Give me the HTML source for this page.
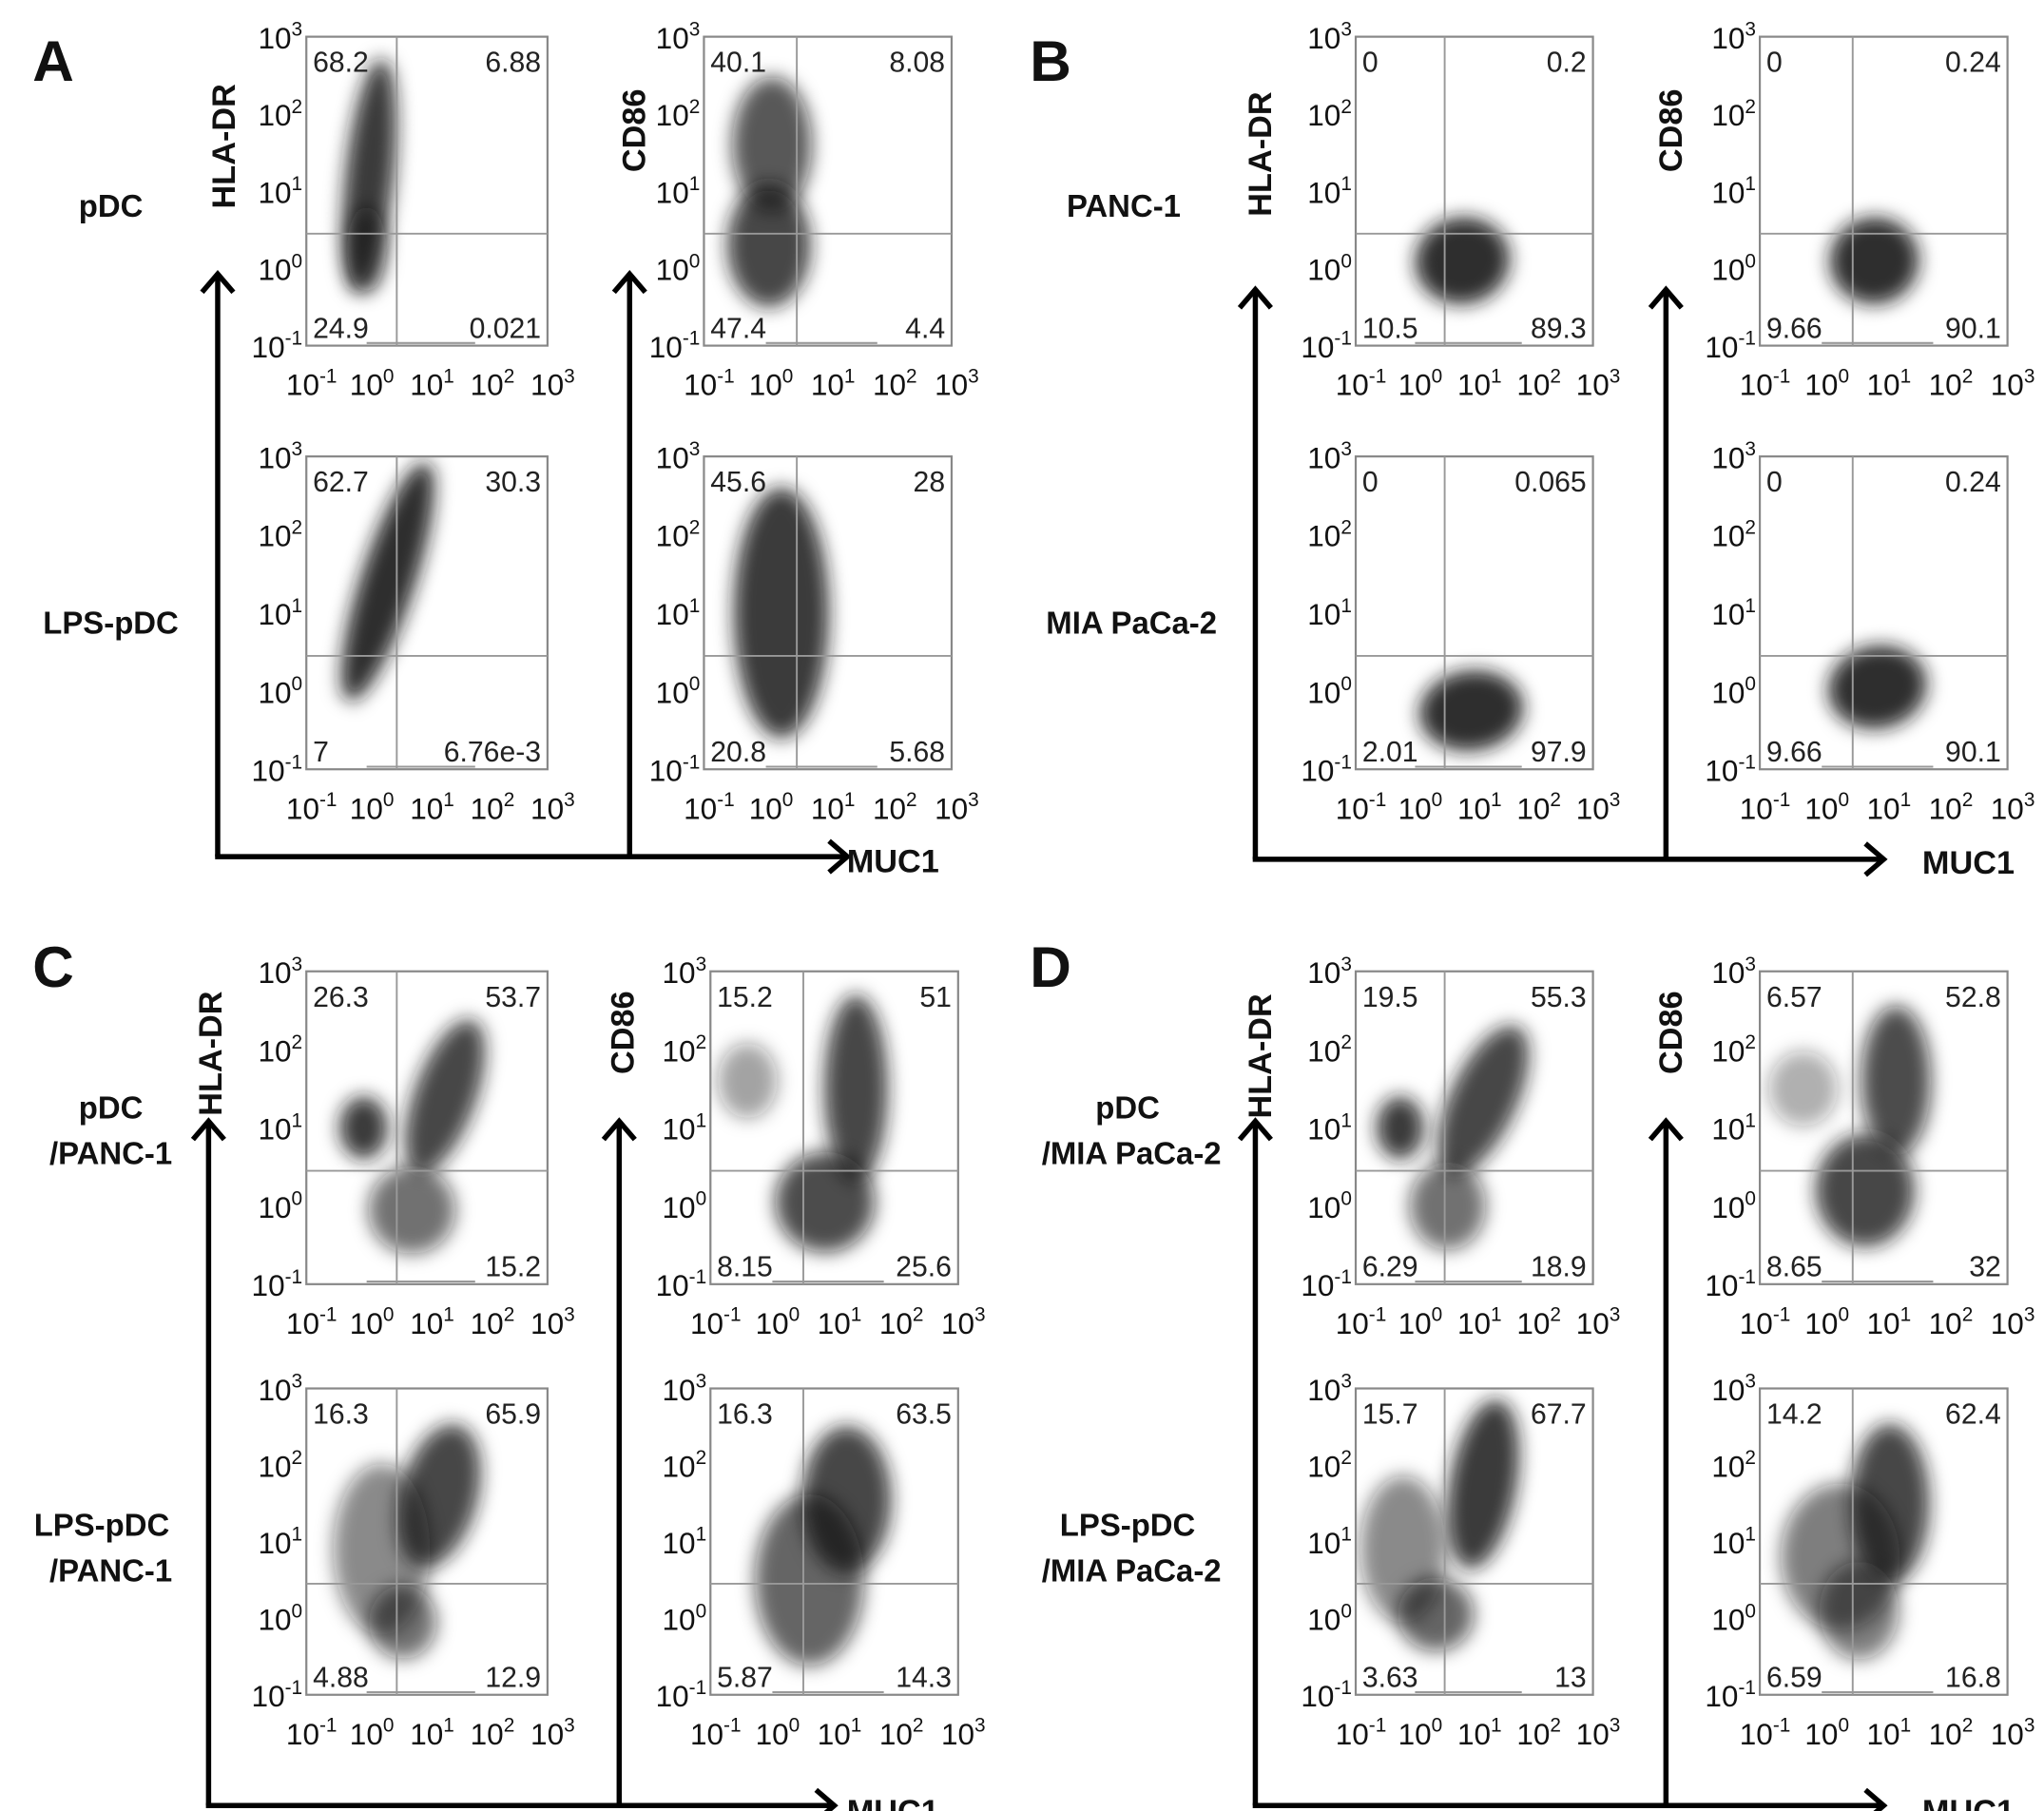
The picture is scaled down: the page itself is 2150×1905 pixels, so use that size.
<!DOCTYPE html>
<html><head><meta charset="utf-8">
<style>
html,body{margin:0;padding:0;background:#fff;}
svg{display:block;}
text{font-family:"Liberation Sans",Arial,sans-serif;}
</style></head>
<body>
<svg id="fig" xmlns="http://www.w3.org/2000/svg" width="2150" height="1905" viewBox="0 0 1568 1389">
<defs>
<filter id="blur" x="-50%" y="-50%" width="200%" height="200%"><feGaussianBlur stdDeviation="7"/></filter>
</defs>
</svg>
<script>
// ---- data: quadrant percentages (UL, UR, LL, LR) per plot ----
const plotNames = ["A-pDC-HLADR","A-pDC-CD86","A-LPSpDC-HLADR","A-LPSpDC-CD86",
 "B-PANC1-HLADR","B-PANC1-CD86","B-MIA-HLADR","B-MIA-CD86",
 "C-pDC-PANC1-HLADR","C-pDC-PANC1-CD86","C-LPSpDC-PANC1-HLADR","C-LPSpDC-PANC1-CD86",
 "D-pDC-MIA-HLADR","D-pDC-MIA-CD86","D-LPSpDC-MIA-HLADR","D-LPSpDC-MIA-CD86"];
const quadUL = ["68.2","40.1","62.7","45.6","0","0","0","0","26.3","15.2","16.3","16.3","19.5","6.57","15.7","14.2"];
const quadUR = ["6.88","8.08","30.3","28","0.2","0.24","0.065","0.24","53.7","51","65.9","63.5","55.3","52.8","67.7","62.4"];
const quadLL = ["24.9","47.4","7","20.8","10.5","9.66","2.01","9.66","","8.15","4.88","5.87","6.29","8.65","3.63","6.59"];
const quadLR = ["0.021","4.4","6.76e-3","5.68","89.3","90.1","97.9","90.1","15.2","25.6","12.9","14.3","18.9","32","13","16.8"];
// ---- data: population clusters per plot [cx(log10), cy(log10), sdx, sdy, angle deg, density] ----
const clusters = [
 [[0.05,1.2,0.25,0.95,6,0.85],[0.0,0.25,0.2,0.35,0,0.6]],
 [[0.1,1.6,0.4,0.55,0,0.7],[0.05,0.3,0.42,0.5,0,0.8]],
 [[0.35,1.4,0.28,1.0,18,0.9]],
 [[0.25,1.0,0.48,1.0,0,0.85]],
 [[0.8,0.1,0.5,0.35,-12,0.9]],
 [[0.85,0.1,0.45,0.35,-12,0.9]],
 [[0.95,-0.25,0.55,0.32,-8,0.9]],
 [[0.9,0.05,0.5,0.33,-12,0.9]],
 [[-0.05,1.0,0.25,0.25,0,0.85],[1.3,1.4,0.32,0.65,20,0.8],[0.75,-0.05,0.45,0.35,0,0.6]],
 [[1.35,1.5,0.32,0.75,0,0.8],[0.85,0.05,0.5,0.4,0,0.75],[-0.4,1.6,0.3,0.3,0,0.4]],
 [[1.2,1.6,0.4,0.6,15,0.8],[0.25,0.9,0.5,0.7,0,0.5],[0.6,-0.05,0.35,0.3,0,0.6]],
 [[1.2,1.55,0.45,0.6,0,0.8],[0.6,0.5,0.55,0.7,0,0.65]],
 [[-0.25,1.0,0.25,0.25,0,0.85],[1.15,1.35,0.35,0.65,25,0.8],[0.55,0.0,0.4,0.35,0,0.6]],
 [[1.2,1.6,0.35,0.6,0,0.75],[0.7,0.2,0.5,0.45,0,0.8],[-0.3,1.5,0.35,0.3,0,0.35]],
 [[1.15,1.75,0.35,0.7,10,0.85],[-0.2,0.9,0.45,0.6,0,0.5],[0.35,0.05,0.4,0.3,0,0.65]],
 [[1.1,1.5,0.4,0.65,0,0.8],[0.3,0.8,0.6,0.6,0,0.55],[0.6,0.1,0.4,0.4,0,0.55]]
];
const tickExps = ["-1","0","1","2","3"];
const tickVals = [-1,0,1,2,3];
const quadX = 0.5, quadY = 0.45;

// ---- layout (not data) ----
const colX = {A:[[235,420],[540,730]],B:[[1040,1222],[1350,1540]],C:[[235,420],[545,735]],D:[[1040,1222],[1350,1540]]};
const rowY = {top:[[28,265],[350,590]],bot:[[745,985],[1065,1300]]};
const panels = ["A","B","C","D"];

const NS="http://www.w3.org/2000/svg";
const svg=document.getElementById("fig");
function el(tag,attrs,parent){const e=document.createElementNS(NS,tag);for(const k in attrs)e.setAttribute(k,attrs[k]);(parent||svg).appendChild(e);return e;}
function txt(s,x,y,size,weight,anchor,parent){const t=el("text",{x:x,y:y,"font-size":size,"font-weight":weight||"normal","text-anchor":anchor||"start",fill:"#111"},parent);t.textContent=s;return t;}
function powLabel(exp,x,y,anchor,parent,size){
  const t=el("text",{x:x,y:y,"font-size":size,"text-anchor":anchor,fill:"#111"},parent);
  const a=document.createElementNS(NS,"tspan");a.textContent="10";t.appendChild(a);
  const b=document.createElementNS(NS,"tspan");b.setAttribute("dy",-size*0.42);b.setAttribute("font-size",size*0.66);b.textContent=exp;t.appendChild(b);
  return t;
}

panels.forEach((p,pi)=>{
  const rows = (p==="A"||p==="B")?rowY.top:rowY.bot;
  for(let r=0;r<2;r++){
    for(let c=0;c<2;c++){
      const i = pi*4 + r*2 + c;
      const [x0,x1]=colX[p][c], [y0,y1]=rows[r];
      const g=el("g",{});
      
      
      const sx=v=>x0+(v+1)/4*(x1-x0);
      const sy=v=>y1-(v+1)/4*(y1-y0);
      const cid="clip"+i;
      const cp=el("clipPath",{id:cid},g);el("rect",{x:x0,y:y0,width:x1-x0,height:y1-y0},cp);
      const cg=el("g",{"clip-path":"url(#"+cid+")"},g);
      clusters[i].forEach((cl,k)=>{
        const [cx,cy,dx,dy,ang,den]=cl;
        const e=el("ellipse",{cx:sx(cx),cy:sy(cy),rx:dx*(x1-x0)/4*1.6,ry:dy*(y1-y0)/4*1.6,
          transform:"rotate("+ang+" "+sx(cx)+" "+sy(cy)+")",fill:"#151515","fill-opacity":den,filter:"url(#blur)"},cg);
        
        
      });
      el("line",{x1:sx(0),y1:y1-2,x2:sx(1.8),y2:y1-2,stroke:"#999","stroke-width":1.5},g);
      const box=el("rect",{x:x0,y:y0,width:x1-x0,height:y1-y0,fill:"none",stroke:"#888","stroke-width":1.6},g);
      
      
      const vl=el("line",{x1:sx(quadX),y1:y0,x2:sx(quadX),y2:y1,stroke:"#999","stroke-width":1.4},g);
      
      
      const hl=el("line",{x1:x0,y1:sy(quadY),x2:x1,y2:sy(quadY),stroke:"#999","stroke-width":1.4},g);
      
      
      tickVals.forEach((v,k)=>{
        const yl=powLabel(tickExps[k],x0-3,sy(v)+9,"end",g,23);
        
        
        const xl=powLabel(tickExps[k],sx(v)+4,y1+38,"middle",g,23);
        
        
      });
      const q=[[quadUL[i],x0+5,y0+27,"start"],[quadUR[i],x1-5,y0+27,"end"],[quadLL[i],x0+5,y1-6,"start"],[quadLR[i],x1-5,y1-6,"end"]];
      q.forEach((qq,k)=>{
        const t=txt(qq[0],qq[1],qq[2],22,"normal",qq[3],g);t.setAttribute("fill","#222");
        
        
      });
    }
  }
});

function arrowLine(x1,y1,x2,y2,name){
  const g=el("g",{});
  
  
  el("line",{x1:x1,y1:y1,x2:x2,y2:y2,stroke:"#000","stroke-width":4},g);
  if(x1===x2){el("polyline",{points:(x2-12)+","+(y2+14)+" "+x2+","+y2+" "+(x2+12)+","+(y2+14),fill:"none",stroke:"#000","stroke-width":4},g);}
  else{el("polyline",{points:(x2-14)+","+(y2-12)+" "+x2+","+y2+" "+(x2-14)+","+(y2+12),fill:"none",stroke:"#000","stroke-width":4},g);}
}
const arrowSets=[{x:[167,483],top:210,bot:657,end:650,muc:[685,669]},
 {x:[963,1278],top:222,bot:659,end:1445,muc:[1510,670]},
 {x:[160,475],top:860,bot:1385,end:640,muc:[685,1398]},
 {x:[963,1278],top:860,bot:1385,end:1445,muc:[1510,1398]}];
arrowSets.forEach((a,k)=>{
  arrowLine(a.x[0],a.bot,a.x[0],a.top,"y-axis-arrow-hla-dr");
  arrowLine(a.x[1],a.bot,a.x[1],a.top,"y-axis-arrow-cd86");
  arrowLine(a.x[0]-2,a.bot,a.end,a.bot,"x-axis-arrow-muc1");
  const m=txt("MUC1",a.muc[0],a.muc[1],25,"bold","middle");
  
  
});
const yTitles=[["HLA-DR",180,112],["CD86",495,100],["HLA-DR",975,118],["CD86",1290,100],
 ["HLA-DR",170,808],["CD86",486,792],["HLA-DR",975,810],["CD86",1290,792]];
yTitles.forEach(t=>{
  const e=txt(t[0],t[1],t[2],25,"bold","middle");
  e.setAttribute("transform","rotate(-90 "+t[1]+" "+t[2]+")");
  
  
});
const letters=[["A",25,62],["B",790,62],["C",25,757],["D",790,757]];
letters.forEach(l=>{
  const e=txt(l[0],l[1],l[2],44,"bold","start");
  
  
});
const rowLabels=[["pDC",85,166],["LPS-pDC",85,486],["PANC-1",862,166],["MIA PaCa-2",868,486],
 ["pDC",85,858],["/PANC-1",85,893],["LPS-pDC",78,1178],["/PANC-1",85,1213],
 ["pDC",865,858],["/MIA PaCa-2",868,893],["LPS-pDC",865,1178],["/MIA PaCa-2",868,1213]];
rowLabels.forEach(l=>{
  const e=txt(l[0],l[1],l[2],24,"bold","middle");
  
  
});
</script>
</body></html>
